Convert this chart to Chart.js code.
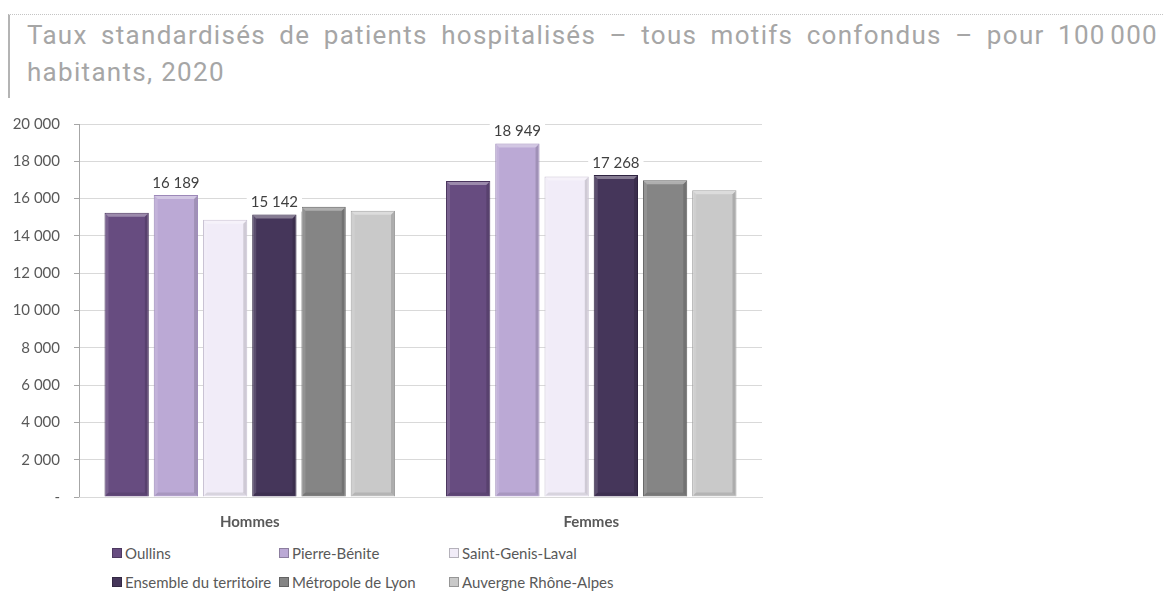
<!DOCTYPE html>
<html><head><meta charset="utf-8">
<script src="https://cdn.jsdelivr.net/npm/chart.js@4"></script>
<style>
body{margin:0;width:1163px;height:594px;background:#fff;position:relative;overflow:hidden;font-family:Lato,"Open Sans",sans-serif}
#frame{position:absolute;left:8px;top:14px;width:1155px;height:83px;border-top:1px dotted #c4c4c4;border-left:2px solid #b4b4b4}
#title{position:absolute;left:27px;top:17px;width:1131px;font-family:Roboto,sans-serif;font-weight:400;font-size:26px;line-height:37px;color:#a6a6a6;letter-spacing:1.3px}
#title .l1{text-align:justify;text-align-last:justify;white-space:nowrap}
#chartBox{position:absolute;left:0;top:101px;width:780px;height:439px}
#legend{position:absolute;left:0;top:544px;width:780px;height:50px;font-size:15px;color:#595959}
.li{position:absolute;display:flex;align-items:center;white-space:nowrap}
.sw{width:8px;height:8px;margin-right:3px;border:1px solid rgba(0,0,0,0.25)}
</style></head>
<body>
<div id="frame"></div>
<div id="title"><div class="l1">Taux standardisés de patients hospitalisés – tous motifs confondus – pour 100&#8239;000</div><div>habitants, 2020</div></div>
<div id="chartBox"><canvas id="c"></canvas></div>
<div id="legend"></div>
<script>
const categories = ['Hommes', 'Femmes'];
const seriesNames = ['Oullins', 'Pierre-Bénite', 'Saint-Genis-Laval', 'Ensemble du territoire', 'Métropole de Lyon', 'Auvergne Rhône-Alpes'];
const oullins = [15240, 16940];
const pierreBenite = [16189, 18949];
const saintGenisLaval = [14870, 17180];
const ensembleTerritoire = [15142, 17268];
const metropoleLyon = [15560, 16990];
const auvergneRhoneAlpes = [15350, 16450];
const yTickValues = [0, 2000, 4000, 6000, 8000, 10000, 12000, 14000, 16000, 18000, 20000];
const labelledSeries = ['Pierre-Bénite', 'Ensemble du territoire'];

const seriesValues = [oullins, pierreBenite, saintGenisLaval, ensembleTerritoire, metropoleLyon, auvergneRhoneAlpes];
const fillColors = ['#674c80', '#bba9d5', '#f1ecf8', '#45365a', '#858585', '#c9c9c9'];
const edgeColors = ['#4a355e', '#9c88b8', '#c9c2d3', '#2e2340', '#5f5f5f', '#a0a0a0'];

function fmt(v){ return v === 0 ? '-' : String(Math.round(v)).replace(/\B(?=(\d{3})+(?!\d))/g, ' '); }

const bevel = {
  id: 'bevel',
  afterDatasetsDraw(chart){
    const ctx = chart.ctx;
    chart.data.datasets.forEach((ds, i) => {
      chart.getDatasetMeta(i).data.forEach(bar => {
        const l = bar.x - bar.width/2, r = bar.x + bar.width/2, t = bar.y, b = bar.base;
        const d = 4;
        ctx.save();
        ctx.fillStyle = 'rgba(255,255,255,0.35)';
        ctx.beginPath(); ctx.moveTo(l+1,t+1); ctx.lineTo(r-1,t+1); ctx.lineTo(r-d,t+d); ctx.lineTo(l+d,t+d); ctx.closePath(); ctx.fill();
        ctx.fillStyle = 'rgba(255,255,255,0.12)';
        ctx.beginPath(); ctx.moveTo(l+1,t+1); ctx.lineTo(l+d,t+d); ctx.lineTo(l+d,b-d); ctx.lineTo(l+1,b-1); ctx.closePath(); ctx.fill();
        ctx.fillStyle = 'rgba(0,0,0,0.14)';
        ctx.beginPath(); ctx.moveTo(r-1,t+1); ctx.lineTo(r-d,t+d); ctx.lineTo(r-d,b-d); ctx.lineTo(r-1,b-1); ctx.closePath(); ctx.fill();
        ctx.fillStyle = 'rgba(0,0,0,0.10)';
        ctx.beginPath(); ctx.moveTo(l+1,b-1); ctx.lineTo(l+d,b-d); ctx.lineTo(r-d,b-d); ctx.lineTo(r-1,b-1); ctx.closePath(); ctx.fill();
        ctx.restore();
      });
    });
  }
};

const valueLabels = {
  id: 'valueLabels',
  afterDatasetsDraw(chart){
    const ctx = chart.ctx;
    chart.data.datasets.forEach((ds, i) => {
      if (!labelledSeries.includes(ds.label)) return;
      chart.getDatasetMeta(i).data.forEach((bar, j) => {
        const txt = fmt(ds.data[j]);
        ctx.save();
        ctx.font = '15px Lato, "Open Sans", sans-serif';
        const w = ctx.measureText(txt).width;
        const cy = bar.y - 12;
        ctx.fillStyle = '#fff';
        ctx.fillRect(bar.x - w/2 - 4, cy - 9, w + 8, 18);
        ctx.fillStyle = '#404040';
        ctx.textAlign = 'center'; ctx.textBaseline = 'middle';
        ctx.fillText(txt, bar.x, cy);
        ctx.restore();
      });
    });
  }
};

new Chart(document.getElementById('c'), {
  type: 'bar',
  data: {
    labels: categories,
    datasets: seriesNames.map((n, i) => ({
      label: n, data: seriesValues[i],
      backgroundColor: fillColors[i], borderColor: edgeColors[i], borderWidth: 1,
      categoryPercentage: 0.865, barPercentage: 0.9
    }))
  },
  options: {
    responsive: true, maintainAspectRatio: false, animation: false,
    layout: { padding: { left: 0, right: 18, top: 4, bottom: 3 } },
    plugins: { legend: { display: false }, tooltip: { enabled: false } },
    scales: {
      y: {
        min: 0, max: 20000,
        afterBuildTicks(s){ s.ticks = yTickValues.map(v => ({ value: v })); },
        afterFit(s){ s.width = 79; },
        ticks: { callback: v => fmt(v), color: '#595959', padding: 14, font: { family: 'Lato', size: 15 } },
        grid: { color: '#d9d9d9', tickLength: 5, tickColor: '#a6a6a6' },
        border: { display: true, color: '#a6a6a6' }
      },
      x: {
        afterFit(s){ s.height = 40; },
        ticks: { color: '#595959', padding: 8, font: { family: 'Lato', size: 15, weight: 'bold' } },
        grid: { display: false },
        border: { display: true, color: '#d9d9d9' }
      }
    }
  },
  plugins: [bevel, valueLabels]
});

const legend = document.getElementById('legend');
const colLeft = [112, 279, 449];
const rowTop = [0, 29];
seriesNames.forEach((n, i) => {
  const d = document.createElement('div');
  d.className = 'li';
  d.style.left = colLeft[i % 3] + 'px';
  d.style.top = rowTop[Math.floor(i / 3)] + 'px';
  d.innerHTML = '<span class="sw" style="background:' + fillColors[i] + '"></span>' + n;
  legend.appendChild(d);
});
</script>
</body></html>
